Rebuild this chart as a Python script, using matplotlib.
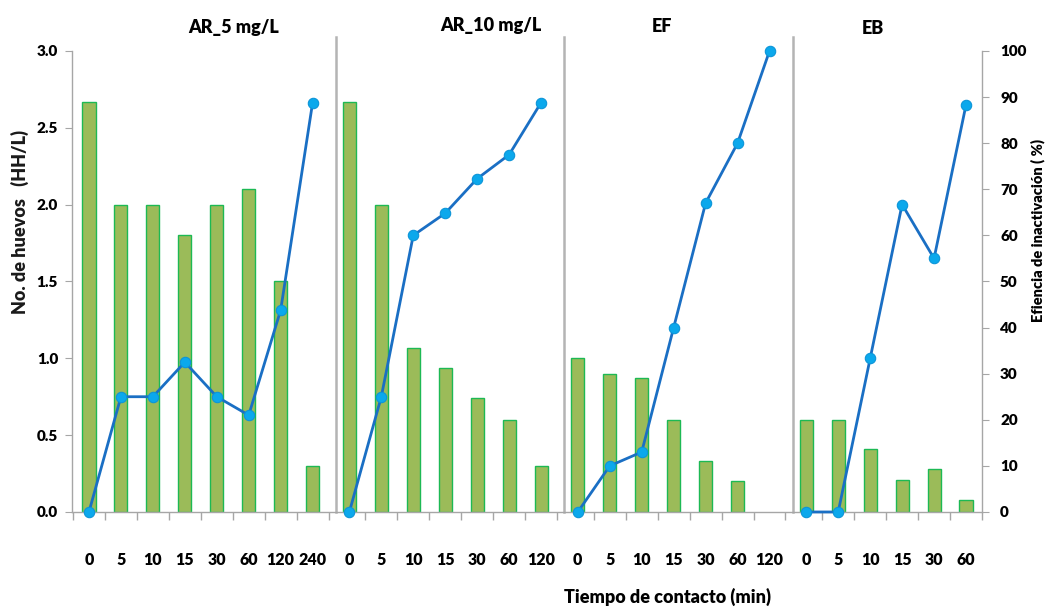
import numpy as np
import matplotlib
matplotlib.use("Agg")
import matplotlib.pyplot as plt
from matplotlib.ticker import MultipleLocator, FixedLocator, FormatStrFormatter

plt.rcParams["font.family"] = ["Lato", "DejaVu Sans"]
plt.rcParams["font.weight"] = "heavy"

# Treatments and contact times (min)
group_names = ["AR_5 mg/L", "AR_10 mg/L", "EF", "EB"]
times_ar5 = ["0", "5", "10", "15", "30", "60", "120", "240"]
times_ar10 = ["0", "5", "10", "15", "30", "60", "120"]
times_ef = ["0", "5", "10", "15", "30", "60", "120"]
times_eb = ["0", "5", "10", "15", "30", "60"]

# Number of eggs (HH/L)
eggs_ar5 = [2.67, 2.0, 2.0, 1.8, 2.0, 2.1, 1.5, 0.3]
eggs_ar10 = [2.67, 2.0, 1.07, 0.94, 0.74, 0.6, 0.3]
eggs_ef = [1.0, 0.9, 0.87, 0.6, 0.33, 0.2, 0.0]
eggs_eb = [0.6, 0.6, 0.41, 0.21, 0.28, 0.08]

# Inactivation efficiency (%)
eff_ar5 = [0, 25, 25, 32.5, 25, 21, 43.8, 88.8]
eff_ar10 = [0, 25, 60, 64.8, 72.3, 77.5, 88.8]
eff_ef = [0, 10, 13, 40, 67, 80, 100]
eff_eb = [0, 0, 33.3, 66.7, 55, 88.3]

groups = [
    (times_ar5, eggs_ar5, eff_ar5),
    (times_ar10, eggs_ar10, eff_ar10),
    (times_ef, eggs_ef, eff_ef),
    (times_eb, eggs_eb, eff_eb),
]

GAP = 0.15
BAR_FILL = "#9BBB59"
BAR_EDGE = "#1DB954"
LINE_COLOR = "#1A6FC4"
MARK_FILL = "#0BA8EC"
AXIS_GRAY = "#A6A6A6"

fig = plt.figure(figsize=(10.47, 6.10), dpi=100)
ax = fig.add_axes([0.0688, 0.1607, 0.8691, 0.7557])
ax2 = ax.twinx()

xpos_all, labels_all, minor_ticks, separators = [], [], [], []
start = 0.0
for gi, (times, eggs, eff) in enumerate(groups):
    x = start + np.arange(len(times))
    if gi == 0:
        minor_ticks.append(x[0] - 0.5)
    else:
        separators.append(x[0] - 0.42)
    minor_ticks.extend(list(x + 0.5))
    xpos_all.extend(list(x))
    labels_all.extend(times)

    h = np.array(eggs, dtype=float)
    keep = h > 0
    ax.bar(x[keep], h[keep], width=0.41, color=BAR_FILL,
           edgecolor=BAR_EDGE, linewidth=1.0, zorder=2)
    ax2.plot(x, eff, color=LINE_COLOR, lw=2.0, marker="o", ms=7.5,
             mfc=MARK_FILL, mec="#0C95D8", mew=0.8, clip_on=False, zorder=5)
    start = x[-1] + 1 + GAP

ax.set_xlim(-0.53, xpos_all[-1] + 0.5)
ax.set_ylim(0, 3.0)
ax2.set_ylim(0, 100)

# Vertical separators between treatments
for s in separators:
    ax.plot([s, s], [0, 3.09], color="#B4B4B4", lw=1.8, clip_on=False, zorder=1)

# Axes styling
for a in (ax, ax2):
    a.spines["top"].set_visible(False)
    for side in ("left", "right", "bottom"):
        a.spines[side].set_color(AXIS_GRAY)
        a.spines[side].set_linewidth(1.0)
ax.spines["right"].set_visible(False)
ax2.spines["left"].set_visible(False)
ax2.spines["bottom"].set_visible(False)

ax.yaxis.set_major_locator(MultipleLocator(0.5))
ax.yaxis.set_major_formatter(FormatStrFormatter("%.1f"))
ax.tick_params(axis="y", direction="out", length=5, color=AXIS_GRAY,
               labelsize=11, pad=5)
ax2.yaxis.set_major_locator(MultipleLocator(10))
ax2.tick_params(axis="y", direction="out", length=5, color=AXIS_GRAY,
                labelsize=11, pad=8)

ax.xaxis.set_major_locator(FixedLocator(xpos_all))
ax.set_xticklabels(labels_all)
ax.xaxis.set_minor_locator(FixedLocator(minor_ticks))
ax.tick_params(axis="x", which="major", length=0, labelsize=11.5, pad=29)
ax.tick_params(axis="x", which="minor", direction="out", length=6,
               color=AXIS_GRAY, width=1.0)

# Treatment titles
title_px = [(234, 27), (491, 25), (662, 27), (873, 28)]
for name, (px, py) in zip(group_names, title_px):
    fig.text(px / 1047, 1 - py / 610, name, ha="center", va="center",
             fontsize=13, fontweight="heavy")

fig.text(20 / 1047, 1 - 222 / 610, "No. de huevos   (HH/L)", rotation=90,
         ha="center", va="center", fontsize=13, fontweight="heavy",
         color="#1a1a1a")
fig.text(1038 / 1047, 1 - 230 / 610, "Efiencia de inactivación ( %)",
         rotation=90, ha="center", va="center", fontsize=10.5,
         fontweight="heavy")
fig.text(667 / 1047, 1 - 597 / 610, "Tiempo de contacto (min)",
         ha="center", va="center", fontsize=13, fontweight="heavy")

fig.savefig("out.png", dpi=100)
